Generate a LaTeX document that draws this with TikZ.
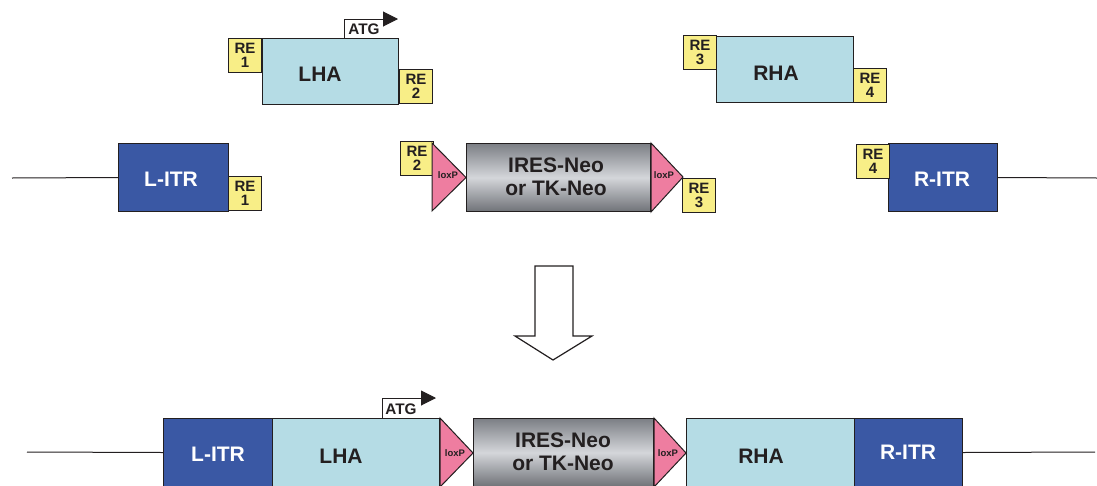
\documentclass[tikz,border=0pt]{standalone}
\usepackage{fontspec}
\setmainfont{Liberation Sans}
\usepackage{xcolor}
\usepackage{tikz}
\usetikzlibrary{arrows.meta}
\definecolor{armblue}{HTML}{B5DCE5}
\definecolor{itrblue}{HTML}{3A58A4}
\definecolor{reyellow}{HTML}{F8EE87}
\definecolor{loxpink}{HTML}{EE7DA0}
\definecolor{casdark}{HTML}{7C7F85}
\definecolor{caslight}{HTML}{D4D6DA}
\definecolor{txtdark}{HTML}{231F20}
\tikzset{
	ln/.style={draw=txtdark, line width=1pt},
	sz/.style 2 args={minimum width=#1pt, minimum height=#2pt, inner sep=0pt, anchor=north west},
	rebox/.style={ln, fill=reyellow, sz={33}{34}, align=center, text=txtdark,
		font=\fontsize{15}{13.5}\selectfont\bfseries},
	arm/.style={ln, fill=armblue},
	itr/.style={ln, fill=itrblue},
	cassette/.style={ln, top color=casdark, bottom color=casdark!90!black, middle color=caslight},
	loxp/.style={ln, fill=loxpink, line join=miter},
	bigtxt/.style={font=\fontsize{21}{23}\selectfont\bfseries, text=txtdark, align=center},
	whtxt/.style={font=\fontsize{21}{23}\selectfont\bfseries, text=white},
	loxtxt/.style={font=\fontsize{9.5}{10}\selectfont\bfseries, text=txtdark},
	atgtxt/.style={font=\fontsize{15.3}{16}\selectfont\bfseries, text=txtdark},
	atgarrow/.style={ln, -{Triangle[length=15pt, width=15pt]}},
}

\begin{document}
\begin{tikzpicture}[x=1pt, y=-1pt]
	\useasboundingbox (0,0) rectangle (1097,485);

	% top row: homology arms
	\node[arm, sz={136}{66}] (lha) at (262,38) {};
	\node[bigtxt] at (320,74) {LHA};
	\node[rebox] (re1a) at (228,38) {RE\\1};
	\node[rebox] (re2a) at (399,69) {RE\\2};
	\coordinate (atgtip) at (398,19);
	\draw[atgarrow] (344,38) |- (atgtip);
	\node[atgtxt] (atga) at (364,29) {ATG};

	\node[arm, sz={137}{66}] (rha) at (716,36) {};
	\node[bigtxt] at (776,73) {RHA};
	\node[rebox] (re3a) at (683,35) {RE\\3};
	\node[rebox] (re4a) at (853,68) {RE\\4};

	% middle row: vector and cassette
	\coordinate (lend) at (12,178);
	\node[itr, sz={110}{68}] (litr) at (118,143) {};
	\node[whtxt] at (171,179) {L-ITR};
	\draw[ln] (lend) -- (litr.west);
	\node[rebox] (re1b) at (228,176) {RE\\1};

	\node[rebox] (re2b) at (400,141) {RE\\2};
	\node[cassette, sz={184}{68}] (cas) at (466,143) {};
	\node[bigtxt] at (556,177) {IRES-Neo\\or TK-Neo};
	\draw[loxp] (432,143) -- (cas.west) -- (432,211) -- cycle;
	\draw[loxp] (cas.north east) -- (683,177) -- (cas.south east) -- cycle;
	\node[loxtxt] (lox1) at (448,175) {loxP};
	\node[loxtxt] (lox2) at (664,175) {loxP};
	\node[rebox] (re3b) at (682,178) {RE\\3};

	\coordinate (rend) at (1097,178);
	\node[itr, sz={109}{68}] (ritr) at (888,143) {};
	\node[whtxt] at (942,179) {R-ITR};
	\draw[ln] (ritr.east) -- (rend);
	\node[rebox] (re4b) at (856,144) {RE\\4};

	% big arrow
	\draw[ln, line width=1.2pt, fill=white] (535,266) -- (573,266) -- (573,336) -- (592,336)
		-- (553,360) -- (515,336) -- (535,336) -- cycle;

	% bottom row: final construct
	\coordinate (lend2) at (27,452);
	\coordinate (rend2) at (1095,452);
	\node[itr, sz={109}{68}] (litr2) at (163,418) {};
	\node[arm, sz={167}{68}] (lha2) at (272,418) {};
	\node[cassette, sz={180}{68}] (cas2) at (473,418) {};
	\node[arm, sz={168}{68}] (rha2) at (686,418) {};
	\node[itr, sz={108}{68}] (ritr2) at (854,418) {};
	\draw[ln] (lend2) -- (litr2.west);
	\draw[ln] (ritr2.east) -- (rend2);
	\node[whtxt] at (218,454) {L-ITR};
	\node[bigtxt] at (341,456) {LHA};
	\node[bigtxt] at (563,452) {IRES-Neo\\or TK-Neo};
	\node[bigtxt] at (761,456) {RHA};
	\node[whtxt] at (908,452) {R-ITR};
	\draw[loxp] (lha2.north east) -- (cas2.west |- 0,453) -- (lha2.south east) -- cycle;
	\draw[loxp] (cas2.north east) -- (rha2.west |- 0,453) -- (cas2.south east) -- cycle;
	\node[loxtxt] (lox3) at (455,453) {loxP};
	\node[loxtxt] (lox4) at (668,453) {loxP};
	\coordinate (atgtip2) at (436,398);
	\draw[atgarrow] (382,418) |- (atgtip2);
	\node[atgtxt] (atgb) at (401,409) {ATG};
\end{tikzpicture}
\end{document}
